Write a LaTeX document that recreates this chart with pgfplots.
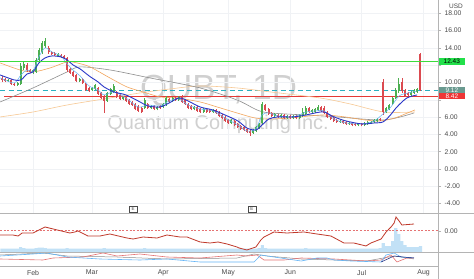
\documentclass[border=0pt]{standalone}
\usepackage{pgfplots}
\usepackage{pgfplotstable}
\pgfplotsset{compat=1.18}
\usepackage{fontspec}
\setmainfont{Liberation Sans}
\definecolor{upc}{HTML}{4CAF50}
\definecolor{dnc}{HTML}{DB4A50}
\definecolor{lvlg}{RGB}{60,220,60}
\definecolor{hred}{HTML}{E53935}
\definecolor{hcyan}{HTML}{2BB0C0}
\definecolor{emab}{HTML}{2A37C8}
\definecolor{emalb}{HTML}{64B5F6}
\definecolor{maor}{HTML}{F2A65E}
\definecolor{magr}{HTML}{8E8E8E}
\definecolor{matan}{HTML}{F7C995}
\definecolor{indr}{HTML}{C0392B}
\definecolor{zr}{HTML}{E57373}
\definecolor{volc}{HTML}{C2E1F6}
\definecolor{gridc}{HTML}{F0F2F5}
\definecolor{labc}{HTML}{4A4A4A}
\definecolor{sepc}{HTML}{B4B4B4}
\definecolor{boxg}{HTML}{22E04A}
\definecolor{boxt}{HTML}{6A9A90}
\definecolor{boxr}{HTML}{EE3535}
\definecolor{wm}{HTML}{D0D0D0}

\pgfplotstableread{
x o h l c
-8 10.18 10.41 10.06 10.30
-5 9.72 10.06 9.60 9.95
-4 9.83 12.26 9.72 11.91
-3 11.68 12.49 11.45 12.15
0 11.22 11.57 10.99 11.45
1 11.22 12.84 11.10 12.61
2 12.61 14.00 12.26 13.77
3 13.53 14.81 13.30 14.58
4 14.23 15.15 14.00 14.81
8 13.07 13.42 12.96 13.30
15 10.18 10.53 10.06 10.41
19 9.14 9.49 9.02 9.37
20 9.25 9.83 9.14 9.72
24 7.87 8.91 7.75 8.79
25 8.68 9.37 8.56 9.25
26 8.91 9.83 8.79 9.60
29 8.10 8.44 7.98 8.33
36 7.06 8.21 6.94 7.98
38 7.06 7.40 6.94 7.29
40 6.94 7.29 6.82 7.17
42 7.17 7.63 7.06 7.52
43 7.52 8.44 7.29 8.21
45 7.87 8.33 7.75 8.21
47 7.98 8.44 7.87 8.33
52 6.94 7.29 6.82 7.17
55 6.59 7.06 6.48 6.94
58 6.59 6.94 6.48 6.82
64 5.32 5.78 5.21 5.67
71 4.16 4.63 4.05 4.51
72 4.40 4.97 4.28 4.86
73 4.74 5.32 4.63 5.21
74 5.32 7.75 5.21 7.52
78 6.13 6.48 6.02 6.36
80 6.02 6.36 5.90 6.25
82 5.90 6.25 5.78 6.13
84 5.90 6.25 5.78 6.13
86 5.90 6.36 5.78 6.25
87 6.13 7.06 6.02 6.59
88 6.36 7.29 6.25 7.06
90 6.59 6.94 6.48 6.82
91 6.59 7.06 6.48 6.94
92 6.82 7.40 6.71 7.17
99 5.44 5.67 5.32 5.55
102 5.21 5.44 5.09 5.32
105 5.09 5.32 4.97 5.21
107 5.09 5.44 4.97 5.32
108 5.21 5.55 5.09 5.44
109 5.32 5.55 5.21 5.44
110 5.44 5.78 5.32 5.67
111 5.55 5.90 5.44 5.78
114 6.59 7.17 6.48 7.06
115 6.94 7.52 6.82 7.40
116 7.52 8.33 7.40 8.21
117 8.21 9.37 8.10 9.14
118 9.02 10.53 8.79 9.83
122 8.56 9.02 8.44 8.91
123 8.79 9.25 8.68 9.14
124 8.91 9.37 8.79 9.25
}\upcandles

\pgfplotstableread{
x o h l c
-10 10.53 10.76 10.06 10.30
-9 10.41 10.53 10.06 10.18
-7 10.30 10.41 9.72 9.83
-6 9.83 9.95 9.60 9.72
-2 12.03 12.26 11.22 11.45
-1 11.45 11.57 11.10 11.22
5 14.00 14.23 13.30 13.53
6 13.53 13.65 13.19 13.30
7 13.42 13.53 13.07 13.19
9 13.19 13.30 12.84 12.96
10 13.07 13.19 12.72 12.84
11 12.84 12.96 11.22 11.45
12 11.57 11.68 10.99 11.10
13 11.22 11.34 10.64 10.76
14 10.87 10.99 10.06 10.18
16 10.41 10.53 9.83 9.95
17 9.83 9.95 9.02 9.14
18 9.37 9.49 8.91 9.02
21 9.37 9.49 8.56 8.68
22 8.79 8.91 8.10 8.21
23 8.33 8.56 6.48 7.87
27 8.91 9.02 8.21 8.33
28 8.56 8.68 7.98 8.10
30 8.33 8.44 7.75 7.87
31 7.98 8.10 7.40 7.52
32 7.75 7.87 7.29 7.40
33 7.52 7.63 6.82 6.94
34 7.29 7.40 6.59 6.71
35 7.06 7.17 6.48 6.59
37 7.52 7.63 6.94 7.06
39 7.29 7.40 6.82 6.94
41 7.29 7.40 6.94 7.06
44 8.10 8.21 7.63 7.75
46 8.21 8.33 7.87 7.98
48 8.33 8.56 7.63 7.75
49 7.98 8.10 7.40 7.52
50 7.52 7.63 6.94 7.06
51 7.29 7.40 6.82 6.94
53 7.17 7.29 6.59 6.71
54 6.94 7.06 6.48 6.59
56 6.94 7.06 6.48 6.59
57 6.82 6.94 6.48 6.59
59 6.82 6.94 6.36 6.48
60 6.59 6.71 6.02 6.13
61 6.25 6.36 5.78 5.90
62 6.02 6.13 5.44 5.55
63 5.67 5.78 5.21 5.32
65 5.55 5.67 4.97 5.09
66 5.21 5.32 4.74 4.86
67 4.97 5.09 4.51 4.63
68 4.86 4.97 4.40 4.51
69 4.63 4.74 4.16 4.28
70 4.40 4.63 3.82 4.16
75 7.40 7.52 6.71 6.82
76 6.94 7.06 6.25 6.36
77 6.48 6.59 6.02 6.13
79 6.25 6.36 5.90 6.02
81 6.25 6.36 5.78 5.90
83 6.13 6.25 5.78 5.90
85 6.13 6.25 5.78 5.90
89 7.06 7.17 6.48 6.59
93 7.17 7.29 6.59 6.71
94 7.06 7.29 6.36 6.48
95 6.59 6.71 5.90 6.02
96 6.13 6.25 5.67 5.78
97 5.90 6.02 5.44 5.55
98 5.67 5.78 5.32 5.44
100 5.55 5.67 5.21 5.32
101 5.44 5.55 5.09 5.21
103 5.32 5.44 4.97 5.09
104 5.21 5.32 4.97 5.09
106 5.21 5.32 4.97 5.09
112 5.78 5.90 5.55 5.67
113 10.06 10.41 6.25 6.59
119 10.06 10.53 8.79 9.02
120 9.14 9.25 8.33 8.44
121 8.79 8.91 8.44 8.56
125 13.30 13.42 9.02 9.12
}\dncandles

\pgfplotstableread{
x v
-10 3.5
-9 3.5
-8 3.5
-7 3.5
-6 3.5
-5 3.5
-4 5
-3 4
-2 3.5
-1 3.5
0 3.5
1 4
2 4.5
3 4.5
4 4
5 3.5
6 3.5
7 3.5
8 3.5
9 3.5
10 3.5
11 4
12 3.5
13 3.5
14 3.5
15 3.5
16 3.5
17 3.5
18 3.5
19 3.5
20 3.5
21 3.5
22 3.5
23 4
24 3.5
25 3.5
26 3.5
27 3.5
28 3.5
29 3.5
30 3.5
31 3.5
32 3.5
33 3.5
34 3.5
35 3.5
36 4
37 3.5
38 3.5
39 3.5
40 3.5
41 3.5
42 3.5
43 3.5
44 3.5
45 3.5
46 3.5
47 3.5
48 3.5
49 3.5
50 3.5
51 3.5
52 3.5
53 3.5
54 3.5
55 3.5
56 3.5
57 3.5
58 3.5
59 3.5
60 3.5
61 3.5
62 3.5
63 3.5
64 3.5
65 3.5
66 3.5
67 3.5
68 3.5
69 3.5
70 3.5
71 3.5
72 3.5
73 4
74 7
75 4
76 3.5
77 3.5
78 3.5
79 3.5
80 3.5
81 3.5
82 3.5
83 3.5
84 3.5
85 3.5
86 3.5
87 3.5
88 4
89 3.5
90 3.5
91 3.5
92 3.5
93 3.5
94 3.5
95 3.5
96 3.5
97 3.5
98 3.5
99 3.5
100 3.5
101 3.5
102 3.5
103 3.5
104 3.5
105 3.5
106 3.5
107 3.5
108 3.5
109 3.5
110 3.5
111 3.5
112 4
113 9
114 6
115 6
116 11
117 24
118 18
119 11
120 7
121 5
122 5
123 5
124 5
125 6
}\volume

\pgfplotsset{
  rlab/.style={
    yticklabel pos=right, ytick pos=right, tick align=outside,
    major tick length=3bp,
    ytick style={draw=sepc, line width=0.4bp},
    xtick style={draw=none},
    yticklabel style={font=\fontsize{6.8}{8}\selectfont, text=labc,
      /pgf/number format/.cd, fixed, fixed zerofill, precision=2, assume math mode=true},
  },
  candle/.style 2 args={only marks, mark size=0pt, mark options={draw=none, fill=none},
    error bars/.cd, y dir=plus, y explicit, error mark=none,
    error bar style={draw=#1, line width=#2}},
}

\begin{document}
\begin{tikzpicture}
\path[use as bounding box] (0,0) rectangle (474bp,279bp);
\fill[white] (0,0) rectangle (474bp,279bp);

% watermark
\node[anchor=base, text=wm, font=\fontsize{35}{40}\selectfont, inner sep=0] at (218.5bp,179bp) {QUBT, 1D};
\node[anchor=base, text=wm, font=\fontsize{20}{24}\selectfont, inner sep=0] at (218bp,149bp) {Quantum Computing Inc.};

% ---------- main price pane ----------
\begin{axis}[
  rlab,
  at={(0,66bp)}, anchor=south west, width=438bp, height=213bp, scale only axis,
  xmin=-10.65, xmax=130.65, ymin=-5.087, ymax=19.538,
  axis line style={draw=none},
  xtick={0,19,42,63,83,106,126}, xticklabels={},
  xmajorgrids, ymajorgrids,
  grid style={gridc, line width=0.5bp},
  ytick={-4,-2,0,2,4,6,8,10,12,14,16,18},
  yticklabels={-4.00,-2.00,0.00,2.00,4.00,6.00,,10.00,,14.00,16.00,18.00},
  clip=true,
]
% horizontal levels
\addplot[draw=hred, line width=0.8bp] coordinates {(-9.3,8.42) (130.65,8.42)};
\addplot[draw=hcyan, line width=0.9bp, dash pattern=on 5bp off 3.5bp] coordinates {(-10.65,9.12) (130.65,9.12)};
% moving averages
\addplot[matan, line width=0.6bp, smooth, tension=0.5] coordinates {
(-10.6,6.02) (0,6.59) (11.0,7.40) (24.8,8.21) (34.5,8.79) (44.2,9.25) (53.9,9.60) (65.8,9.37) (76.5,8.91) (92.6,8.21) (102.3,7.52) (113.2,6.59) (123.2,6.59)};
\addplot[magr, line width=0.6bp, smooth, tension=0.5] coordinates {
(-10.6,7.75) (0,9.37) (11.0,11.22) (15.2,11.80) (24.8,11.45) (37.7,10.53) (53.9,9.37) (65.8,7.98) (72.3,6.82) (76.5,6.48) (87.4,6.25) (98.1,6.02) (113.2,5.67) (122.9,6.48)};
\addplot[maor, line width=0.6bp, smooth, tension=0.5] coordinates {
(-10.6,12.26) (-4.2,11.45) (0,11.22) (5.5,11.68) (11.0,12.38) (14.2,12.26) (18.4,11.80) (24.8,10.53) (30.3,9.49) (35.5,8.91) (41.0,8.33) (46.5,8.21) (53.9,7.75) (59.4,7.17) (65.8,6.48) (71.6,5.90) (76.5,5.78) (82.9,5.90) (89.4,6.13) (94.2,6.25) (100.6,6.02) (107.1,5.67) (111.9,5.55) (116.8,5.90) (120.0,6.36) (123.2,6.82)};
% candles: wicks
\addplot[candle={upc}{0.6bp}]
  table[x=x, y=l, y error expr=\thisrow{h}-\thisrow{l}] {\upcandles};
\addplot[candle={dnc}{0.6bp}]
  table[x=x, y=l, y error expr=\thisrow{h}-\thisrow{l}] {\dncandles};
% candles: bodies
\addplot[candle={upc}{2bp}]
  table[x=x, y=o, y error expr=\thisrow{c}-\thisrow{o}] {\upcandles};
\addplot[candle={dnc}{2bp}]
  table[x=x, y=c, y error expr=\thisrow{o}-\thisrow{c}] {\dncandles};
% fast averages
\addplot[emalb, line width=0.5bp, smooth, tension=0.5] coordinates {
(-10.6,10.53) (-6.1,9.95) (-3.9,10.87) (-1.9,11.45) (0,11.34) (1.9,12.96) (3.9,14.00) (6.1,13.53) (9.0,13.07) (11.0,12.15) (12.9,11.45) (15.2,10.76) (18.1,9.60) (21.0,9.14) (22.9,8.56) (26.1,8.91) (30.0,8.21) (33.9,7.17) (37.1,7.40) (41.0,7.29) (43.9,7.87) (47.1,8.10) (50.0,7.40) (53.9,6.94) (58.1,6.71) (61.9,5.90) (66.1,5.09) (69.0,4.40) (71.9,4.63) (73.9,6.25) (76.1,6.48) (79.0,6.13) (83.9,6.02) (88.1,6.59) (91.0,6.71) (93.9,6.71) (97.1,5.78) (101.0,5.32) (106.1,5.21) (110.0,5.55) (112.9,6.36) (115.2,7.06) (118.1,8.44) (121.0,8.79) (123.9,9.02)};
\addplot[emab, line width=0.9bp, smooth, tension=0.5] coordinates {
(-10.6,10.87) (-6.1,10.30) (-3.9,10.30) (-1.9,10.99) (0,11.22) (1.9,12.26) (3.9,12.84) (6.1,13.07) (9.0,12.96) (11.0,12.61) (12.9,12.03) (15.2,11.57) (18.1,10.76) (21.0,10.06) (22.9,9.49) (26.1,8.91) (30.0,8.56) (33.9,7.87) (37.1,7.29) (41.0,7.17) (43.9,7.63) (47.1,8.21) (50.0,7.87) (53.9,7.17) (58.1,6.82) (61.9,6.25) (66.1,5.55) (69.0,4.74) (71.9,4.51) (73.9,5.09) (76.1,5.78) (79.0,6.02) (83.9,6.02) (88.1,6.25) (91.0,6.48) (93.9,6.59) (97.1,6.02) (101.0,5.55) (106.1,5.21) (110.0,5.32) (112.9,5.44) (115.2,6.20) (117.4,7.17) (120.6,8.21) (123.9,8.56)};
% earnings markers
\node[draw=labc, fill=white, line width=0.4bp, inner sep=0pt, minimum width=8bp, minimum height=5.5bp,
  font=\fontsize{4.5}{5}\selectfont, text=labc] at (axis cs:32.3,-4.63) {E};
\node[draw=labc, fill=white, line width=0.4bp, inner sep=0pt, minimum width=8bp, minimum height=5.5bp,
  font=\fontsize{4.5}{5}\selectfont, text=labc] at (axis cs:70.6,-4.63) {E};
\coordinate (pg) at (axis cs:130.65,12.43);
\coordinate (pc) at (axis cs:130.65,9.12);
\coordinate (pr) at (axis cs:130.65,8.42);
\end{axis}

% ---------- overlay axis for the green resistance level ----------
\begin{axis}[
  at={(0,66bp)}, anchor=south west, width=438bp, height=213bp, scale only axis,
  xmin=-10.65, xmax=130.65, ymin=-5.087, ymax=19.538,
  hide axis,
]
\addplot[draw=lvlg, line width=1.1bp, mark=none] coordinates {(-10.65,12.43) (130.65,12.43)};
\end{axis}

% ---------- indicator pane ----------
\begin{axis}[
  at={(0,27bp)}, anchor=south west, width=438bp, height=39bp, scale only axis,
  xmin=-10.65, xmax=130.65, ymin=0, ymax=39,
  hide axis,
]
\addplot[ybar, bar width=3.15bp, fill=volc, draw=none] table[x=x, y=v] {\volume};
\end{axis}

\begin{axis}[
  rlab,
  at={(0,27bp)}, anchor=south west, width=438bp, height=39bp, scale only axis,
  xmin=-10.65, xmax=130.65, ymin=-2.13, ymax=1.77,
  axis line style={draw=none},
  xtick=\empty, ytick={0},
]
\addplot[zr, line width=0.6bp, dash pattern=on 2bp off 1.6bp] coordinates {(-10.65,0) (130.65,0)};
\addplot[indr, line width=0.8bp] coordinates {
(-10.6,-0.43) (-6.5,-0.43) (-4.8,-0.53) (-3.5,-0.23) (0,-0.23) (3.9,0.37) (6.5,0.17) (11.9,-0.23) (13.5,-0.13) (14.5,-0.03) (15.8,-0.23) (17.7,-0.53) (21.6,-0.53) (24.8,-0.33) (30.3,-0.73) (32.3,-0.83) (35.5,-0.63) (40.0,-0.73) (43.2,-0.43) (47.4,-0.63) (49.7,-0.63) (53.9,-1.13) (57.1,-1.23) (59.7,-1.13) (62.6,-1.33) (65.8,-1.63) (66.5,-1.73) (69.0,-1.93) (71.9,-1.63) (73.5,-0.93) (74.5,-0.63) (77.7,-0.13) (81.9,-0.23) (87.4,-0.13) (91.6,-0.33) (96.1,-0.53) (100.3,-1.23) (103.5,-1.23) (107.4,-1.53) (109.0,-1.23) (112.3,-0.83) (113.9,-0.13) (115.5,0.37) (116.5,0.77) (117.1,1.37) (118.1,0.97) (119.0,0.57) (122.9,0.67)};
\end{axis}

% ---------- lower oscillator pane ----------
\begin{axis}[
  at={(0,13bp)}, anchor=south west, width=438bp, height=14bp, scale only axis,
  xmin=-10.65, xmax=130.65, ymin=0, ymax=14,
  axis line style={draw=none},
  ytick=\empty,
  xtick={0,19,42,63,83,106,126},
  xticklabels={Feb,Mar,Apr,May,Jun,Jul,Aug},
  xtick style={draw=none},
  xticklabel style={font=\fontsize{7}{8}\selectfont, text=labc, yshift=-0.5bp},
]
\addplot[magr, line width=0.5bp] coordinates {
(-10.6,11) (3.2,13) (11.0,10) (27.1,9) (43.2,7) (65.8,8) (71.3,12) (75.5,10) (86.5,7) (107.7,5) (116.5,10) (122.9,7)};
\addplot[zr, line width=0.6bp] coordinates {
(-10.6,7) (3.2,6) (6.5,8) (16.1,9) (22.6,13) (27.1,10) (34.5,12) (43.2,9) (53.9,8) (65.8,11) (69.0,10) (72.3,11) (74.5,6) (81.0,6) (86.5,8) (97.1,7) (107.7,5) (112.3,6) (115.5,11) (117.4,4) (120.6,8) (122.9,8)};
\addplot[emalb, line width=0.6bp] coordinates {
(-10.6,10) (0,12) (4.5,13) (11.0,9) (21.6,7) (34.5,6) (43.2,7) (53.9,4) (65.8,4) (71.3,4) (73.5,11) (77.7,9) (86.5,5) (91.6,8) (94.8,8) (97.1,6) (102.6,5) (112.3,4) (113.9,11) (116.5,13) (118.7,9) (122.9,8)};
\addplot[emab!60!black, line width=0.5bp] coordinates {
(112.3,4) (116.5,10) (119.5,9) (122.9,8)};
\end{axis}

% frame lines
\draw[sepc, line width=0.6bp] (0,66bp) -- (474bp,66bp);
\draw[sepc, line width=0.6bp] (0,27bp) -- (474bp,27bp);
\draw[sepc, line width=0.6bp] (0,13bp) -- (438bp,13bp);
\draw[sepc, line width=0.6bp] (438bp,0) -- (438bp,279bp);

% price label boxes
\node[anchor=west, fill=boxg, text=black, inner sep=0pt, minimum width=26bp, minimum height=7bp,
  font=\fontsize{6.5}{7}\selectfont] at ([xshift=0.6bp]pg) {12.43};
\node[anchor=west, fill=boxt, text=white, inner sep=0pt, minimum width=26bp, minimum height=6.5bp,
  font=\fontsize{6.5}{7}\selectfont] at ([xshift=0.6bp]pc) {9.12};
\node[anchor=west, fill=boxr, text=white, inner sep=0pt, minimum width=26bp, minimum height=6.5bp,
  font=\fontsize{6.5}{7}\selectfont] at ([xshift=0.6bp]pr) {8.42};
\node[font=\fontsize{6.5}{7}\selectfont, text=labc] at (456bp,273bp) {USD};
\end{tikzpicture}
\end{document}
